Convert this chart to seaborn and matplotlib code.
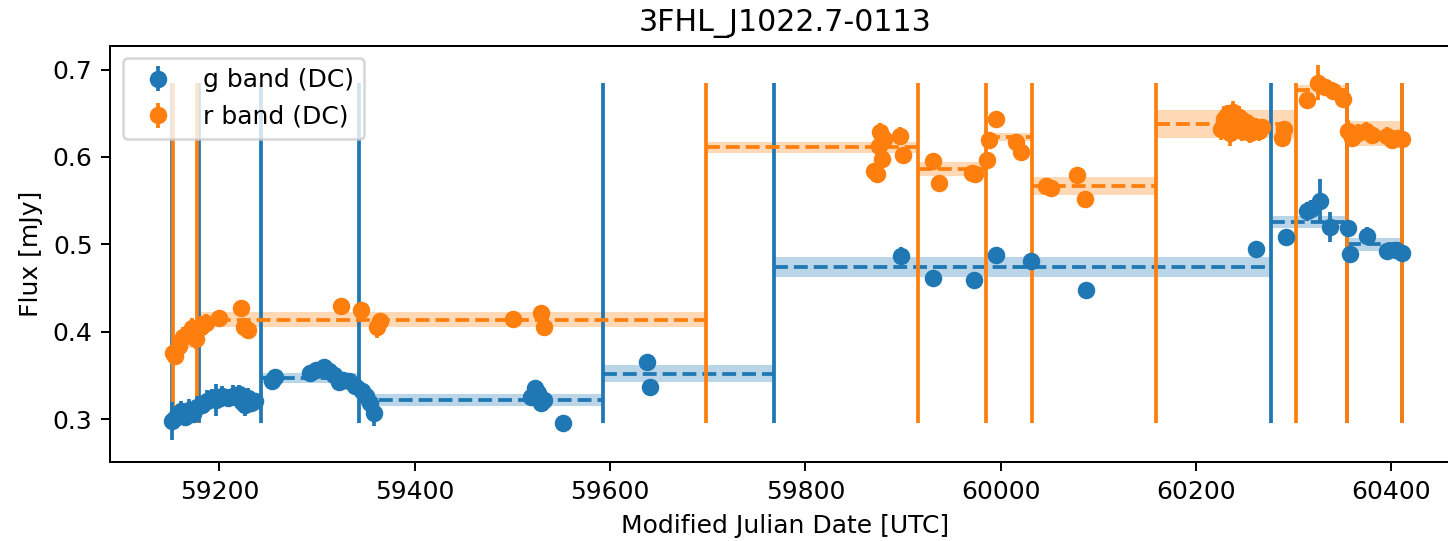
import matplotlib
matplotlib.use('Agg')
from matplotlib import pyplot as plt
import seaborn as sns
import numpy as np


# ---------- DATA ----------
g_mjd = [59151, 59154, 59158, 59161, 59165, 59169, 59173, 59177, 59182, 59187,
         59192, 59197, 59203, 59209, 59214, 59220, 59223, 59226, 59229, 59232,
         59236, 59254, 59257, 59293, 59299, 59307, 59312, 59317, 59322, 59327,
         59333, 59339, 59346, 59350, 59354, 59358, 59519, 59523, 59526, 59529,
         59532, 59552, 59638, 59641, 59898, 59931, 59973, 59995, 60031, 60087,
         60261, 60292, 60314, 60318, 60327, 60337, 60356, 60358, 60375, 60396,
         60405, 60411]
g_flux = [0.298, 0.301, 0.306, 0.309, 0.302, 0.311, 0.306, 0.314, 0.316, 0.321,
          0.324, 0.322, 0.326, 0.324, 0.327, 0.329, 0.320, 0.316, 0.324, 0.318,
          0.321, 0.344, 0.348, 0.353, 0.356, 0.360, 0.355, 0.351, 0.342, 0.345,
          0.344, 0.338, 0.332, 0.326, 0.318, 0.307, 0.325, 0.336, 0.330, 0.318,
          0.322, 0.296, 0.366, 0.337, 0.487, 0.461, 0.459, 0.488, 0.481, 0.448,
          0.495, 0.508, 0.538, 0.541, 0.550, 0.520, 0.519, 0.489, 0.510, 0.493,
          0.494, 0.490]
g_err = [0.022, 0.012, 0.010, 0.012, 0.010, 0.012, 0.010, 0.012, 0.010, 0.012,
         0.010, 0.018, 0.012, 0.010, 0.012, 0.010, 0.010, 0.012, 0.012, 0.010,
         0.008, 0.008, 0.008, 0.008, 0.008, 0.008, 0.008, 0.008, 0.010, 0.008,
         0.008, 0.008, 0.010, 0.010, 0.010, 0.015, 0.008, 0.008, 0.008, 0.010,
         0.008, 0.008, 0.006, 0.006, 0.010, 0.006, 0.006, 0.006, 0.008, 0.006,
         0.008, 0.006, 0.011, 0.010, 0.025, 0.017, 0.008, 0.006, 0.010, 0.006,
         0.006, 0.006]

r_mjd = [59152, 59155, 59159, 59163, 59167, 59172, 59176, 59181, 59186, 59200,
         59222, 59225, 59229, 59324, 59345, 59361, 59364, 59501, 59529, 59532,
         59870, 59873, 59875, 59876, 59878, 59880, 59897, 59900, 59931, 59937,
         59971, 59974, 59986, 59988, 59995, 60016, 60021, 60046, 60052, 60078,
         60086, 60226, 60229, 60232, 60235, 60238, 60241, 60244, 60247, 60251,
         60255, 60259, 60264, 60268, 60288, 60290, 60314, 60325, 60332, 60340,
         60350, 60356, 60360, 60366, 60374, 60380, 60396, 60401, 60406, 60411]
r_flux = [0.376, 0.372, 0.384, 0.394, 0.398, 0.404, 0.392, 0.406, 0.410, 0.416,
          0.427, 0.406, 0.402, 0.429, 0.425, 0.405, 0.412, 0.415, 0.421, 0.405,
          0.584, 0.580, 0.612, 0.629, 0.598, 0.621, 0.624, 0.602, 0.595, 0.570,
          0.582, 0.580, 0.597, 0.620, 0.643, 0.617, 0.606, 0.567, 0.565, 0.579,
          0.552, 0.632, 0.643, 0.648, 0.627, 0.652, 0.640, 0.646, 0.630, 0.640,
          0.628, 0.635, 0.630, 0.634, 0.622, 0.632, 0.665, 0.685, 0.680, 0.676,
          0.666, 0.630, 0.622, 0.628, 0.630, 0.625, 0.624, 0.620, 0.622, 0.621]
r_err = [0.010, 0.010, 0.010, 0.012, 0.010, 0.012, 0.012, 0.012, 0.010, 0.008,
         0.008, 0.010, 0.010, 0.008, 0.008, 0.012, 0.010, 0.008, 0.010, 0.010,
         0.008, 0.008, 0.010, 0.010, 0.010, 0.010, 0.010, 0.008, 0.008, 0.008,
         0.008, 0.006, 0.008, 0.008, 0.008, 0.008, 0.008, 0.008, 0.006, 0.006,
         0.006, 0.012, 0.015, 0.012, 0.015, 0.012, 0.015, 0.012, 0.012, 0.010,
         0.012, 0.010, 0.012, 0.010, 0.010, 0.008, 0.008, 0.020, 0.008, 0.010,
         0.008, 0.012, 0.010, 0.010, 0.010, 0.010, 0.010, 0.008, 0.008, 0.008]

# bayesian block edges and block levels
g_edges = [59151, 59179, 59243, 59343, 59593, 59768, 60277, 60355, 60411]
g_block_flux = [0.305, 0.320, 0.347, 0.322, 0.352, 0.474, 0.526, 0.500]
g_block_err = [0.006, 0.005, 0.006, 0.007, 0.010, 0.011, 0.007, 0.007]

r_edges = [59152, 59177, 59698, 59915, 59985, 60032, 60159, 60302, 60355, 60411]
r_block_flux = [0.388, 0.414, 0.611, 0.586, 0.623, 0.567, 0.638, 0.677, 0.627]
r_block_err = [0.006, 0.009, 0.006, 0.008, 0.005, 0.010, 0.016, 0.005, 0.014]


# ---------- STYLE ----------
sns.set_style('ticks', rc={'axes.edgecolor': 'black', 'text.color': 'black',
                           'axes.labelcolor': 'black', 'xtick.color': 'black',
                           'ytick.color': 'black'})
plt.rcParams['font.family'] = ['DejaVu Sans']
barve = sns.color_palette('tab10')

vse_flux = np.concatenate([g_flux, r_flux])
ymin, ymax = vse_flux.min(), vse_flux.max()

fig = plt.figure(figsize=(1448 / 180, 541 / 180), dpi=180)
# the screenshot cuts the plot on the right: axes reach the figure edge, no right spine
ax = fig.add_axes([0.076, 0.146, 0.924, 0.769])
ax.spines['right'].set_visible(False)


def narisi(mjd, flux, err, edges, block_flux, block_err, color, label):
    for i in range(len(block_flux)):
        x = [edges[i], edges[i + 1]]
        ax.fill_between(x, block_flux[i] - block_err[i], block_flux[i] + block_err[i],
                        color=color, alpha=0.3, lw=0)
        ax.hlines(block_flux[i], x[0], x[1], colors=color, linestyles='--')
    ax.vlines(edges, ymin, ymax, colors=color)
    ax.errorbar(mjd, flux, yerr=err, fmt='o', color=color, label=label, zorder=3)


narisi(g_mjd, g_flux, g_err, g_edges, g_block_flux, g_block_err, barve[0], 'g band (DC)')
narisi(r_mjd, r_flux, r_err, r_edges, r_block_flux, r_block_err, barve[1], 'r band (DC)')

ax.set_xlim(59088, 60458)
ax.set_ylim(0.251, 0.727)
ax.set_title('3FHL_J1022.7-0113', x=0.5045)
ax.set_xlabel('Modified Julian Date [UTC]', x=0.5045)
ax.set_ylabel('Flux [mJy]')
ax.legend(loc='upper left')

fig.savefig('out.png', dpi=180)
